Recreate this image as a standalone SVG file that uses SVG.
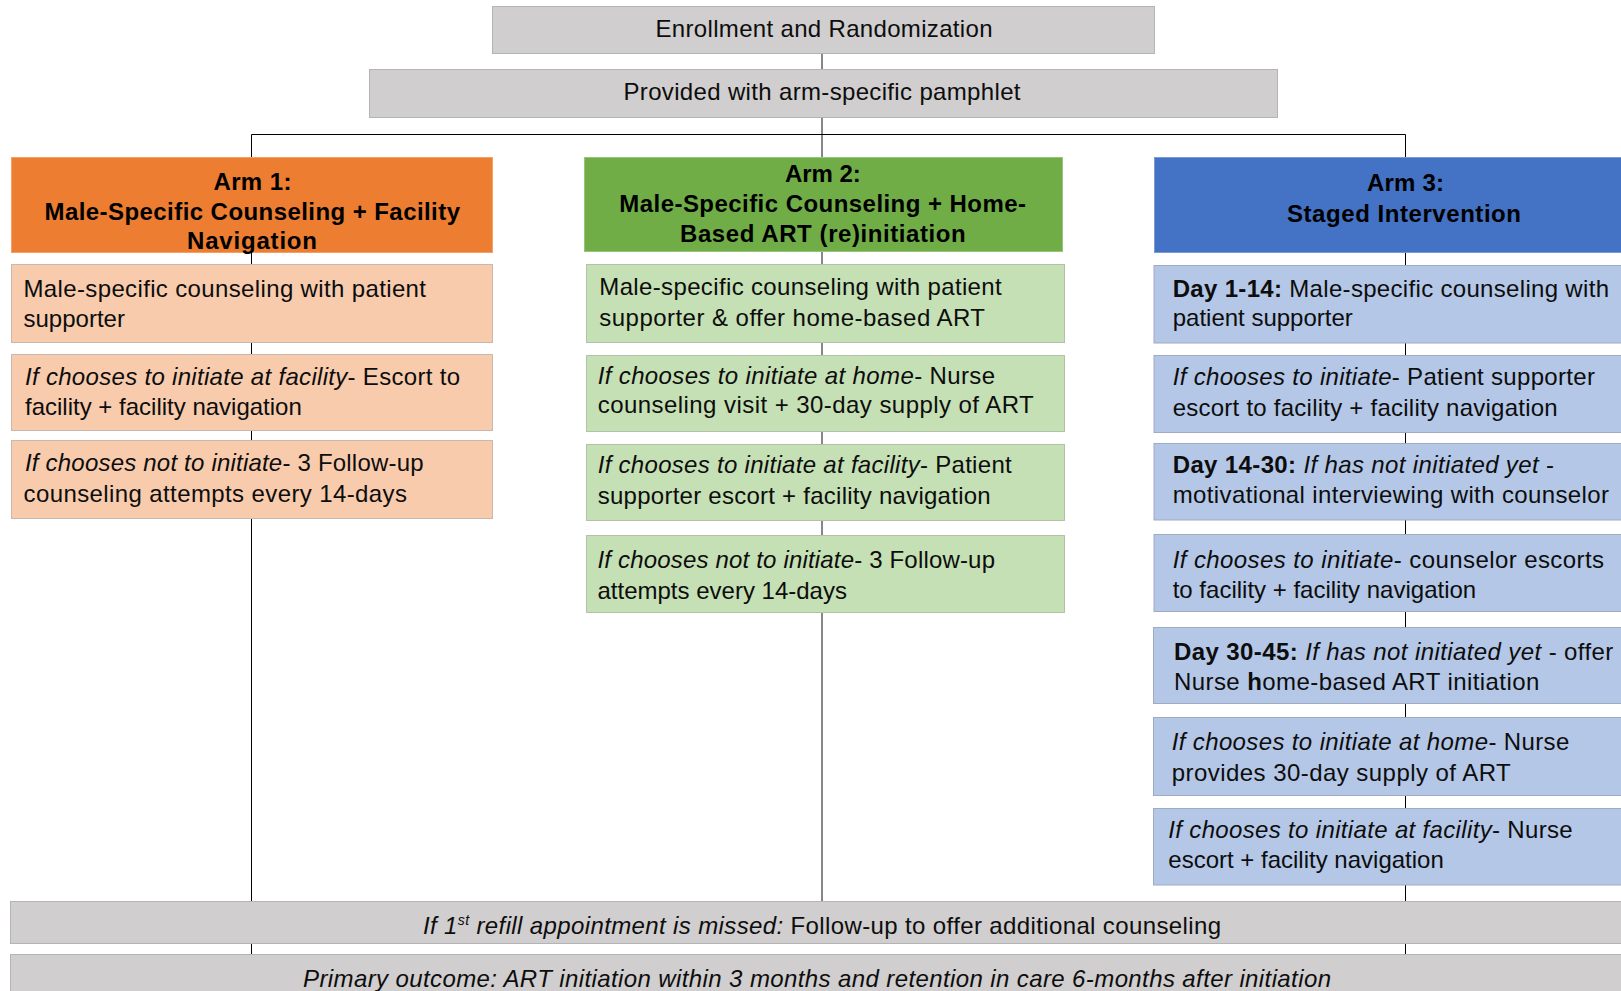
<svg xmlns="http://www.w3.org/2000/svg" width="1621" height="991" viewBox="0 0 1621 991">
<style>
.t{font-family:"Liberation Sans",Arial,sans-serif;font-size:24px;fill:#0d0d0d}
.b{font-weight:bold}
.i{font-style:italic}
.h{font-family:"Liberation Sans",Arial,sans-serif;font-size:24px;font-weight:bold;fill:#000}
.gray{fill:#d0cece;stroke:#b4b4b4;stroke-width:1}
.or{fill:#ed7d31;stroke:#f2a06a;stroke-width:1}
.gr{fill:#70ad47;stroke:#98c47a;stroke-width:1}
.bl{fill:#4472c4;stroke:#7a9ad4;stroke-width:1}
.lor{fill:#f8cbad;stroke:#c8b8ae;stroke-width:1}
.lgr{fill:#c5e0b4;stroke:#b2c2a8;stroke-width:1}
.lbl{fill:#b4c7e7;stroke:#9eabc0;stroke-width:1}
.ln{stroke:#000;stroke-width:1;fill:none}
.lnc{stroke:#555;stroke-width:1.4;fill:none}
</style>
<rect width="1621" height="991" fill="#fff"/>
<g id="connectors">
<line class="lnc" x1="822" y1="54" x2="822" y2="901"/>
<polyline class="ln" points="251.5,954 251.5,134.5 1405.5,134.5 1405.5,954"/>
</g>
<g id="enroll">
<rect class="gray" x="492.5" y="6.5" width="662" height="47"/>
<text class="t" x="655.5" y="37" textLength="337">Enrollment and Randomization</text>
</g>
<g id="pamphlet">
<rect class="gray" x="369.5" y="69.5" width="908" height="48"/>
<text class="t" x="623.5" y="100" textLength="397">Provided with arm-specific pamphlet</text>
</g>
<g id="arm1">
<rect class="or" x="11.5" y="157.5" width="481" height="95"/>
<text class="h" x="213.4" y="190" textLength="78">Arm 1:</text>
<text class="h" x="44.5" y="219.5" textLength="415.5">Male-Specific Counseling + Facility</text>
<text class="h" x="187" y="248.5" textLength="130">Navigation</text>
</g>
<g id="arm1-1">
<rect class="lor" x="11.5" y="264.5" width="481" height="78"/>
<text class="t" x="23.5" y="297" textLength="402.5">Male-specific counseling with patient</text>
<text class="t" x="23.5" y="327">supporter</text>
</g>
<g id="arm1-2">
<rect class="lor" x="11.5" y="354.5" width="481" height="76"/>
<text class="t" x="25" y="385" textLength="435"><tspan class="i">If chooses to initiate at facility</tspan>- Escort to</text>
<text class="t" x="25" y="415">facility + facility navigation</text>
</g>
<g id="arm1-3">
<rect class="lor" x="11.5" y="440.5" width="481" height="78"/>
<text class="t" x="25" y="471" textLength="398.6"><tspan class="i">If chooses not to initiate</tspan>- 3 Follow-up</text>
<text class="t" x="23.5" y="501.5" textLength="383.5">counseling attempts every 14-days</text>
</g>
<g id="arm2">
<rect class="gr" x="584.5" y="157.5" width="478" height="94"/>
<text class="h" x="785" y="181.7" textLength="75.7">Arm 2:</text>
<text class="h" x="619.3" y="212" textLength="406.7">Male-Specific Counseling + Home-</text>
<text class="h" x="680" y="242" textLength="285.7">Based ART (re)initiation</text>
</g>
<g id="arm2-1">
<rect class="lgr" x="586.5" y="264.5" width="478" height="78"/>
<text class="t" x="599.3" y="294.5" textLength="402.4">Male-specific counseling with patient</text>
<text class="t" x="599.3" y="325.5" textLength="385.7">supporter &amp; offer home-based ART</text>
</g>
<g id="arm2-2">
<rect class="lgr" x="586.5" y="355.5" width="478" height="76"/>
<text class="t" x="597.7" y="383.5" textLength="397.3"><tspan class="i">If chooses to initiate at home</tspan>- Nurse</text>
<text class="t" x="597.7" y="413" textLength="436">counseling visit + 30-day supply of ART</text>
</g>
<g id="arm2-3">
<rect class="lgr" x="586.5" y="444.5" width="478" height="76"/>
<text class="t" x="597.7" y="473" textLength="414"><tspan class="i">If chooses to initiate at facility</tspan>- Patient</text>
<text class="t" x="597.7" y="503.5" textLength="393">supporter escort + facility navigation</text>
</g>
<g id="arm2-4">
<rect class="lgr" x="586.5" y="535.5" width="478" height="77"/>
<text class="t" x="597.5" y="568" textLength="397.5"><tspan class="i">If chooses not to initiate</tspan>- 3 Follow-up</text>
<text class="t" x="597.5" y="598.5">attempts every 14-days</text>
</g>
<g id="arm3">
<rect class="bl" x="1154.5" y="157.5" width="470" height="95"/>
<text class="h" x="1367" y="190.5" textLength="77">Arm 3:</text>
<text class="h" x="1287" y="221.5" textLength="234">Staged Intervention</text>
</g>
<g id="arm3-1">
<rect class="lbl" x="1154" y="265.5" width="470" height="77.5"/>
<text class="t" x="1172.7" y="296.5" textLength="436.3"><tspan class="b">Day 1-14:</tspan> Male-specific counseling with</text>
<text class="t" x="1172.7" y="326">patient supporter</text>
</g>
<g id="arm3-2">
<rect class="lbl" x="1154" y="355.5" width="470" height="77"/>
<text class="t" x="1172.7" y="385" textLength="422.3"><tspan class="i">If chooses to initiate</tspan>- Patient supporter</text>
<text class="t" x="1172.7" y="415.5" textLength="385">escort to facility + facility navigation</text>
</g>
<g id="arm3-3">
<rect class="lbl" x="1154" y="443.5" width="470" height="76.5"/>
<text class="t" x="1172.7" y="472.5" textLength="381.3"><tspan class="b">Day 14-30:</tspan> <tspan class="i">If has not initiated yet</tspan> -</text>
<text class="t" x="1172.7" y="502.5" textLength="436.3">motivational interviewing with counselor</text>
</g>
<g id="arm3-4">
<rect class="lbl" x="1154" y="534.5" width="470" height="77"/>
<text class="t" x="1172.7" y="567.5" textLength="431.3"><tspan class="i">If chooses to initiate</tspan>- counselor escorts</text>
<text class="t" x="1172.7" y="597.5">to facility + facility navigation</text>
</g>
<g id="arm3-5">
<rect class="lbl" x="1153.5" y="627.5" width="470" height="76"/>
<text class="t" x="1174" y="659.5" textLength="439.3"><tspan class="b">Day 30-45:</tspan> <tspan class="i">If has not initiated yet</tspan> - offer</text>
<text class="t" x="1174" y="689.5" textLength="365.3">Nurse <tspan class="b">h</tspan>ome-based ART initiation</text>
</g>
<g id="arm3-6">
<rect class="lbl" x="1153.5" y="717.5" width="470" height="78"/>
<text class="t" x="1171.7" y="749.5" textLength="397.6"><tspan class="i">If chooses to initiate at home</tspan>- Nurse</text>
<text class="t" x="1171.7" y="780.5" textLength="339">provides 30-day supply of ART</text>
</g>
<g id="arm3-7">
<rect class="lbl" x="1153.5" y="808.5" width="470" height="76.5"/>
<text class="t" x="1168.3" y="837.5" textLength="404.4"><tspan class="i">If chooses to initiate at facility</tspan>- Nurse</text>
<text class="t" x="1168.3" y="868">escort + facility navigation</text>
</g>
<g id="refill">
<rect class="gray" x="10.5" y="901.5" width="1615" height="42"/>
<text class="t" x="423" y="934" textLength="798"><tspan class="i">If 1</tspan><tspan class="i" font-size="14" dy="-9">st</tspan><tspan class="i" dy="9"> refill appointment is missed:</tspan> Follow-up to offer additional counseling</text>
</g>
<g id="outcome">
<rect class="gray" x="10.5" y="954.5" width="1615" height="42"/>
<text class="t i" x="303" y="987" textLength="1028">Primary outcome: ART initiation within 3 months and retention in care 6-months after initiation</text>
</g>
</svg>
